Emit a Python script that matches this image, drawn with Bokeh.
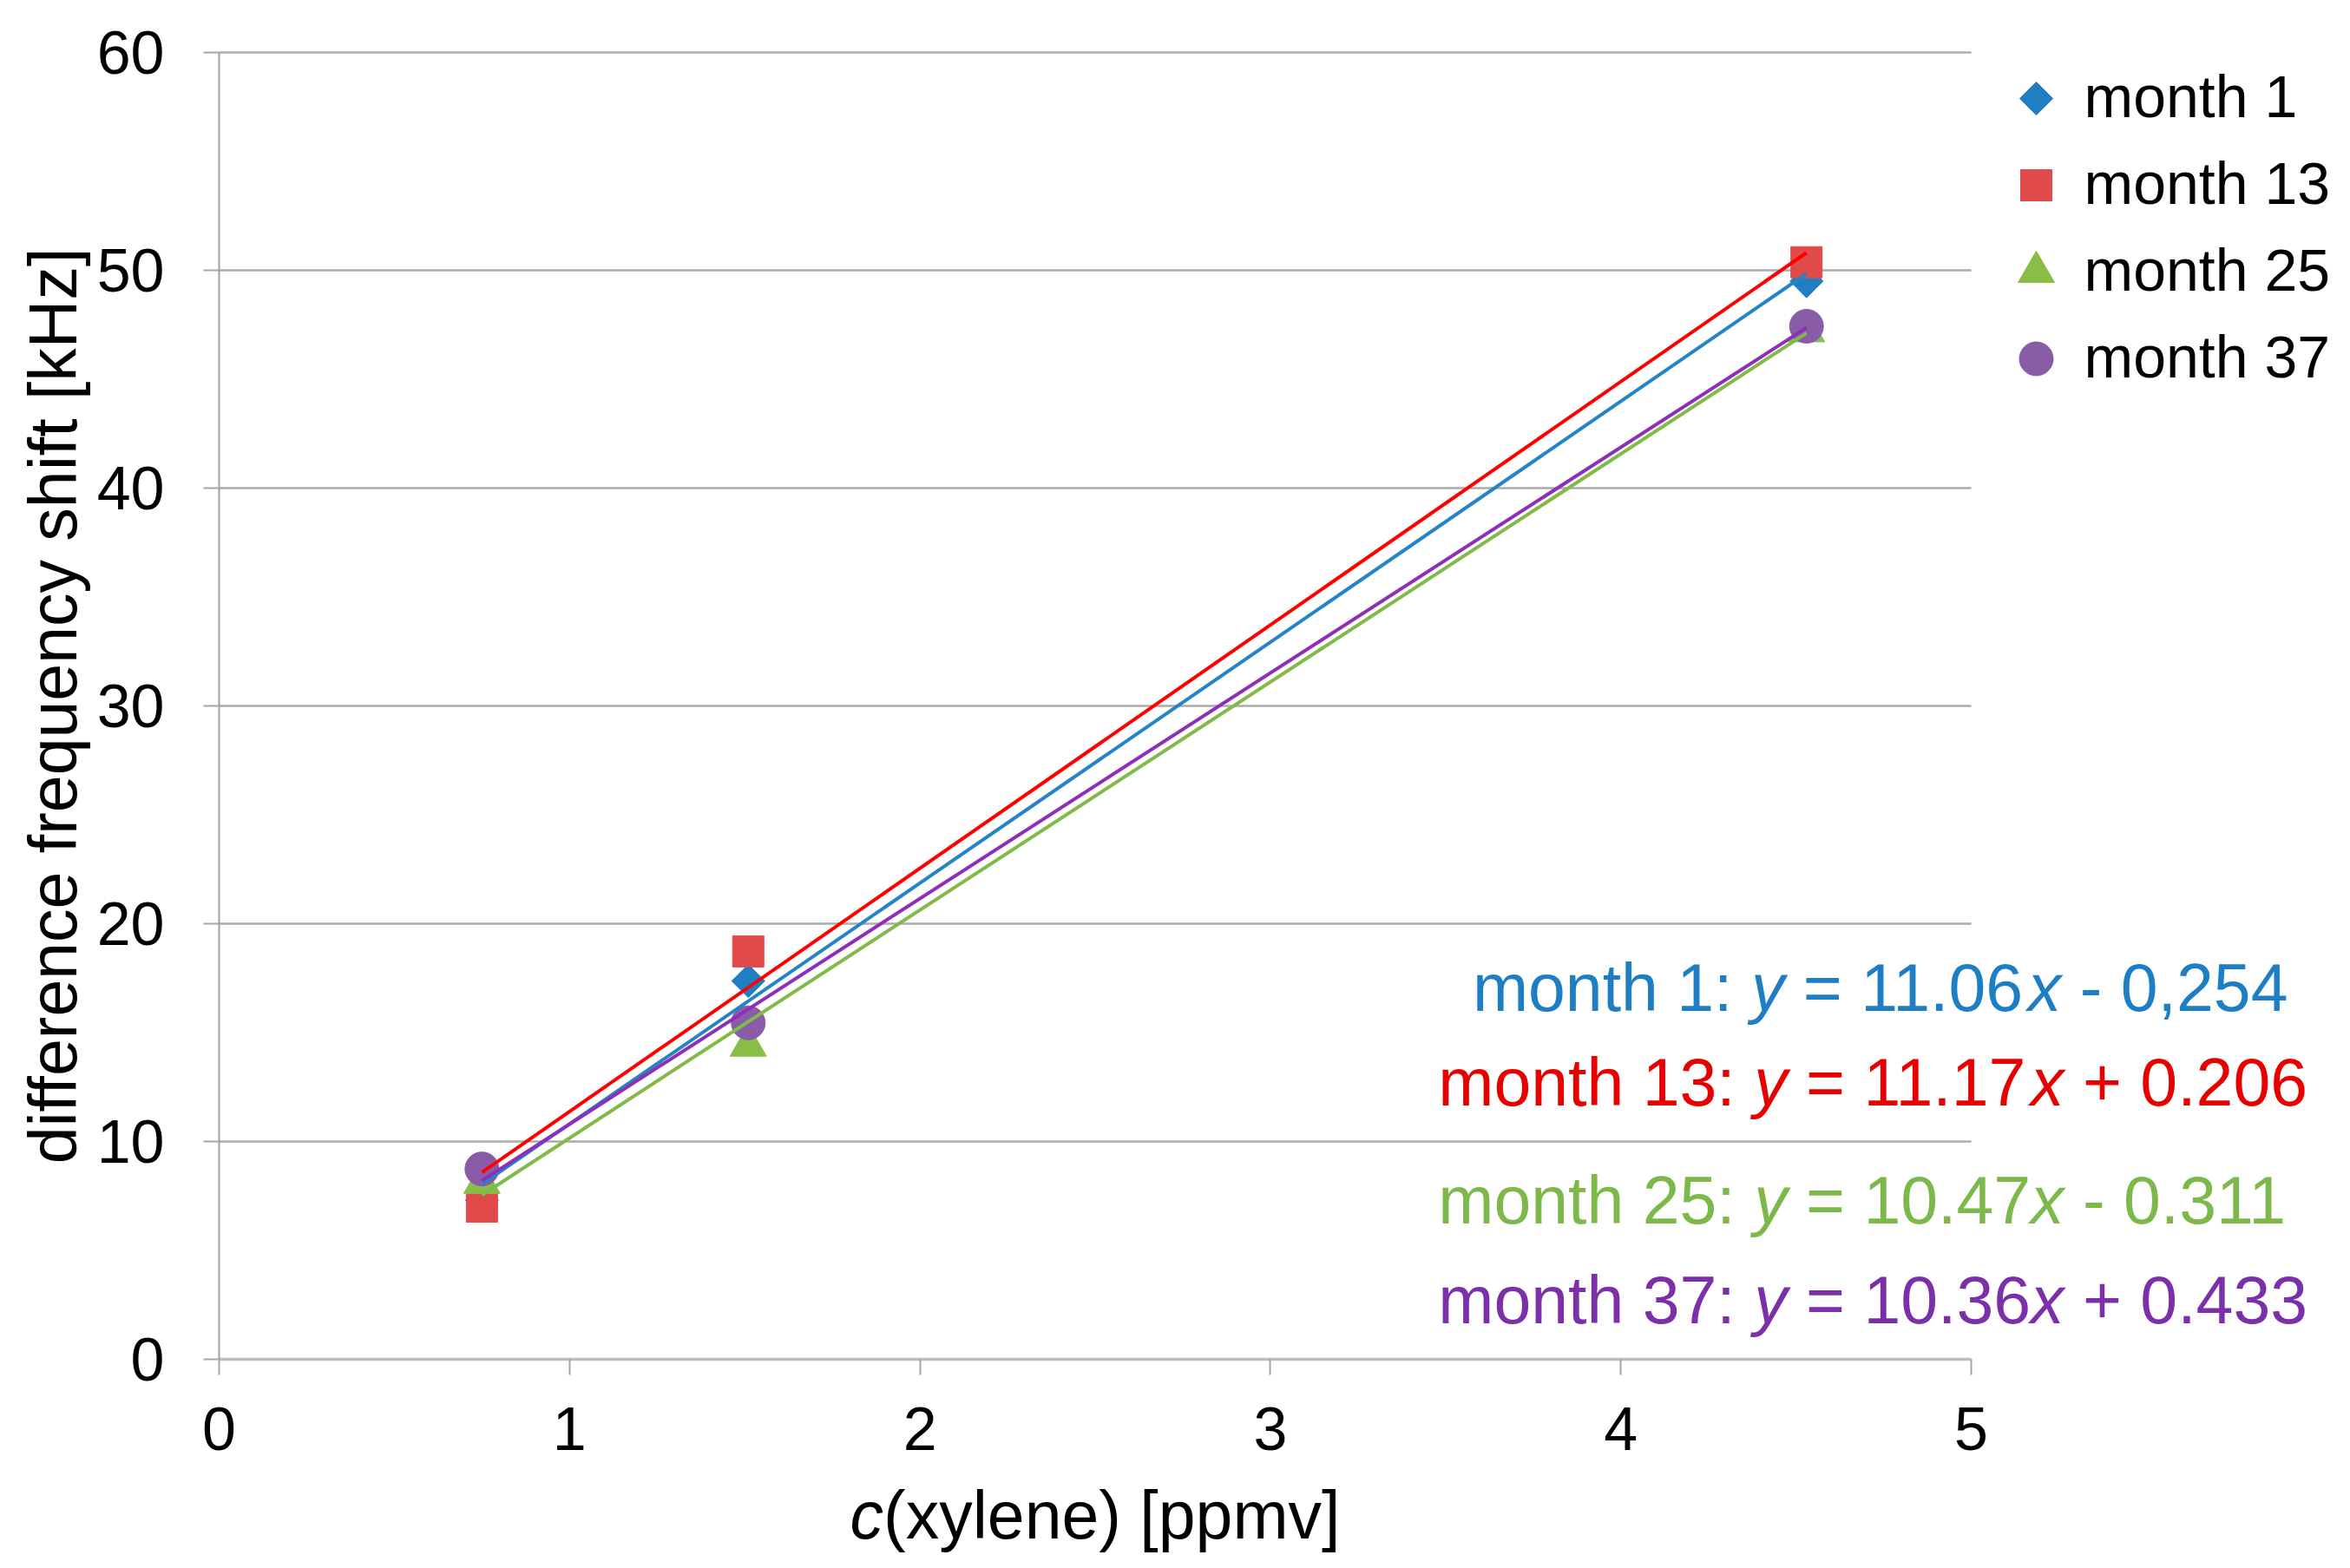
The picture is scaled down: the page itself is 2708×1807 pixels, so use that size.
import numpy as np
from bokeh.plotting import figure
from bokeh.models import Range1d, Label, FixedTicker
from bokeh.embed import file_html
from bokeh.resources import INLINE

# ---------------- data ----------------
conc = [0.75, 1.51, 4.53]
month1 = [7.3, 17.37, 49.5]
month13 = [7.01, 18.73, 50.37]
month25 = [8.1, 14.4, 47.2]
month37 = [8.74, 15.45, 47.43]
series = [month1, month13, month25, month37]
names = ["month 1", "month 13", "month 25", "month 37"]
slopes = [11.06, 11.17, 10.47, 10.36]
intercepts = [-0.254, 0.206, -0.311, 0.433]
eq_slope_txt = ["11.06", "11.17", "10.47", "10.36"]
eq_const_txt = ["- 0,254", "+ 0.206", "- 0.311", "+ 0.433"]
x_ticks = [0, 1, 2, 3, 4, 5]
y_ticks = [0, 10, 20, 30, 40, 50, 60]
x_title = ["c", "(xylene) [ppmv]"]
y_title = "difference frequency shift [kHz]"

# ---------------- styles / layout ----------------
FONT = "Liberation Sans"
marker_types = ["square", "square", "triangle", "circle"]
marker_angles = [np.pi / 4, 0, 0, 0]
marker_sizes = [27, 36, 42, 39]
marker_colors = ["#1F7EC4", "#E04A4A", "#88BE48", "#8A5CA8"]
line_colors = ["#2484C6", "#FF0000", "#82BA4A", "#8E2FB8"]
eq_colors = ["#1E7EC3", "#E60000", "#7DB84A", "#7B2FA8"]

W_FIG, H_FIG = 2692, 1795
X0_PX, Y0_PX = 252, 1566          # canvas position of data origin
PX_X, PX_Y = 403.8, 25.1          # pixels per data unit
BASE_FIX = 0.37                   # label baseline correction (fraction of font size)

p = figure(frame_width=W_FIG, frame_height=H_FIG,
           x_range=Range1d(-X0_PX / PX_X, (W_FIG - X0_PX) / PX_X),
           y_range=Range1d(-(H_FIG - Y0_PX) / PX_Y, Y0_PX / PX_Y),
           output_backend="svg", toolbar_location=None,
           min_border_left=0, min_border_right=0, min_border_top=0, min_border_bottom=0,
           background_fill_color="white", border_fill_color="white", outline_line_color=None)
p.xgrid.visible = False
p.ygrid.visible = False

for ax in (p.xaxis[0], p.yaxis[0]):
    ax.fixed_location = 0
    ax.major_label_text_font = FONT
    ax.major_label_text_font_size = "70px"
    ax.major_label_text_color = "black"
    ax.major_tick_in = 0
    ax.major_tick_out = 18
    ax.minor_tick_line_color = None
    ax.major_tick_line_color = "#A6A6A6"
    ax.major_tick_line_width = 2
p.xaxis.ticker = FixedTicker(ticks=x_ticks)
p.yaxis.ticker = FixedTicker(ticks=y_ticks)
p.xaxis.bounds = (x_ticks[0], x_ticks[-1])
p.yaxis.bounds = (y_ticks[0], y_ticks[-1])
p.xaxis.axis_line_color = "#BDBDBD"
p.xaxis.axis_line_width = 3.5
p.yaxis.axis_line_color = "#A0A0A0"
p.yaxis.axis_line_width = 2
p.xaxis.major_label_standoff = 37
p.yaxis.major_label_standoff = 45

# horizontal gridlines limited to the axis extent
grid_y = [v for v in y_ticks if v > y_ticks[0]]
p.segment(x0=[x_ticks[0]] * len(grid_y), x1=[x_ticks[-1]] * len(grid_y),
          y0=grid_y, y1=grid_y, line_color="#ABABAB", line_width=2.5)

# markers
for i, ys in enumerate(series):
    p.scatter(conc, ys, marker=marker_types[i], angle=marker_angles[i], size=marker_sizes[i],
              fill_color=marker_colors[i], line_color=marker_colors[i], line_width=1)

# trend lines
for i in range(4):
    xs = [conc[0], conc[-1]]
    ys = [slopes[i] * x + intercepts[i] for x in xs]
    p.line(xs, ys, line_color=line_colors[i], line_width=4)


def add_text(x, base_px, text, fs, color="black", italic=False, x_offset=0.0, align="left"):
    p.add_layout(Label(x=x, y=(base_px + BASE_FIX * fs) / PX_Y,
                       x_offset=x_offset, text=text,
                       text_font=FONT, text_font_size=f"{fs}px",
                       text_font_style="italic" if italic else "normal",
                       text_color=color, text_baseline="alphabetic", text_align=align))


# ---------------- legend (manual, right of the axis extent) ----------------
LEG_MARK_PX = 2094   # px right of x=0
LEG_TEXT_PX = 2149
LEG_ROW0_PX = 1453   # px above y=0
LEG_PITCH = 100
LEG_FS = 68
for i in range(4):
    row_px = LEG_ROW0_PX - i * LEG_PITCH
    p.scatter([LEG_MARK_PX / PX_X], [row_px / PX_Y], marker=marker_types[i], angle=marker_angles[i],
              size=marker_sizes[i], fill_color=marker_colors[i], line_color=marker_colors[i])
    add_text(LEG_TEXT_PX / PX_X, row_px - 23, names[i], LEG_FS)

# ---------------- equations ----------------
W = {' ': 278, ':': 278, '=': 584, '+': 584, '-': 333, '.': 278, ',': 278, 'm': 833, 'o': 556,
     'n': 556, 't': 278, 'h': 556, 'y': 500, 'x': 500, 'c': 500, '(': 333, ')': 333, 'l': 222,
     'e': 556, '[': 278, ']': 278, 'p': 556, 'v': 500}
for d in "0123456789":
    W[d] = 556


def tw(s, fs):
    return sum(W[c] for c in s) * fs / 1000.0


def draw_parts(parts, x, base_px, color, fs, start=0.0):
    off = start
    for txt, ital in parts:
        lead = len(txt) - len(txt.lstrip())
        add_text(x, base_px, txt.strip(), fs, color=color, italic=ital, x_offset=off + tw(txt[:lead], fs))
        off += tw(txt, fs)


eq_x = [3.577, 3.479, 3.479, 3.479]
eq_base_px = [400, 291, 155, 40]   # baseline, px above y=0
EQ_FS = 77
for i in range(4):
    parts = [(names[i] + ": ", False), ("y", True), (" = " + eq_slope_txt[i], False),
             ("x", True), (" " + eq_const_txt[i], False)]
    draw_parts(parts, eq_x[i], eq_base_px[i], eq_colors[i], EQ_FS)

# ---------------- axis titles ----------------
TFS = 77
xt_parts = [(x_title[0], True), (x_title[1], False)]
total = sum(tw(t, TFS) for t, _ in xt_parts)
draw_parts(xt_parts, 2.5, -208, "black", TFS, start=-total / 2)

# rotated y title, centred on the y extent
p.add_layout(Label(x=(60 - X0_PX) / PX_X, y=(y_ticks[0] + y_ticks[-1]) / 2, text=y_title,
                   angle=np.pi / 2, text_font=FONT, text_font_size=f"{TFS}px",
                   text_font_style="normal", text_color="black",
                   text_baseline="alphabetic", text_align="center"))

open("out.html", "w").write(file_html(p, INLINE))
